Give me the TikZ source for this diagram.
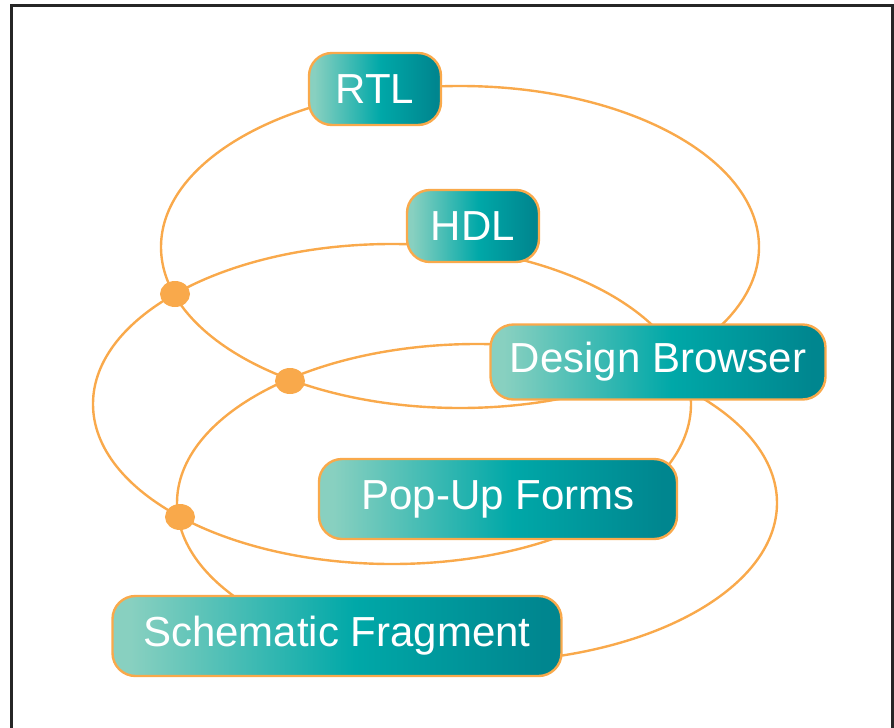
\documentclass[tikz,border=0pt]{standalone}
\usepackage{fontspec}
\setmainfont{Liberation Sans}
\usetikzlibrary{shapes.geometric}

\definecolor{ring}{HTML}{F9A94B}
\definecolor{tealA}{HTML}{88D0C0}
\definecolor{tealB}{HTML}{00A8A8}
\definecolor{tealC}{HTML}{00868F}

\pgfdeclarehorizontalshading{tagfill}{100bp}{color(0bp)=(tealA); color(27bp)=(tealA);
    color(52bp)=(tealB); color(73bp)=(tealC); color(100bp)=(tealC)}

\tikzset{
    ring/.style={draw=ring, line width=2.4pt},
    tag/.style={draw=ring, line width=2.4pt, rounded corners=23pt, inner sep=0pt,
        shading=tagfill, text=white, font=\fontsize{42}{50}\selectfont},
    knot/.style={ellipse, fill=ring, minimum width=30pt, minimum height=26pt, inner sep=0pt}
}

\begin{document}
\begin{tikzpicture}[x=1pt, y=-1pt]
    \useasboundingbox (0,0) rectangle (894,728);
    \draw[line width=3pt, black!85] (11,728) -- (11,5) -- (892,5) -- (892,728);

        % the three loops
        \draw[ring] (460,247) ellipse [x radius=299, y radius=161];
        \draw[ring] (392,404) ellipse [x radius=299, y radius=160];
        \draw[ring] (477,503) ellipse [x radius=300, y radius=159];

        \foreach \n/\x/\y in {1/175/294, 2/290/381, 3/180/517}
            {
                \node[name=knot\n, knot] at (\x, \y) {};
            }

        \node[name=rtl, tag, minimum width=132pt, minimum height=72pt] at (375, 89) {RTL};
        \node[name=hdl, tag, minimum width=132pt, minimum height=72pt] at (473, 226) {HDL};
        \node[name=browser, tag, minimum width=335pt, minimum height=75pt] at (658, 362) {Design Browser};
        \node[name=forms, tag, minimum width=358pt, minimum height=80pt] at (498, 499) {Pop-Up Forms};
        \node[name=fragment, tag, minimum width=449pt, minimum height=80pt] at (337, 636) {Schematic Fragment};
    \end{tikzpicture}
\end{document}
